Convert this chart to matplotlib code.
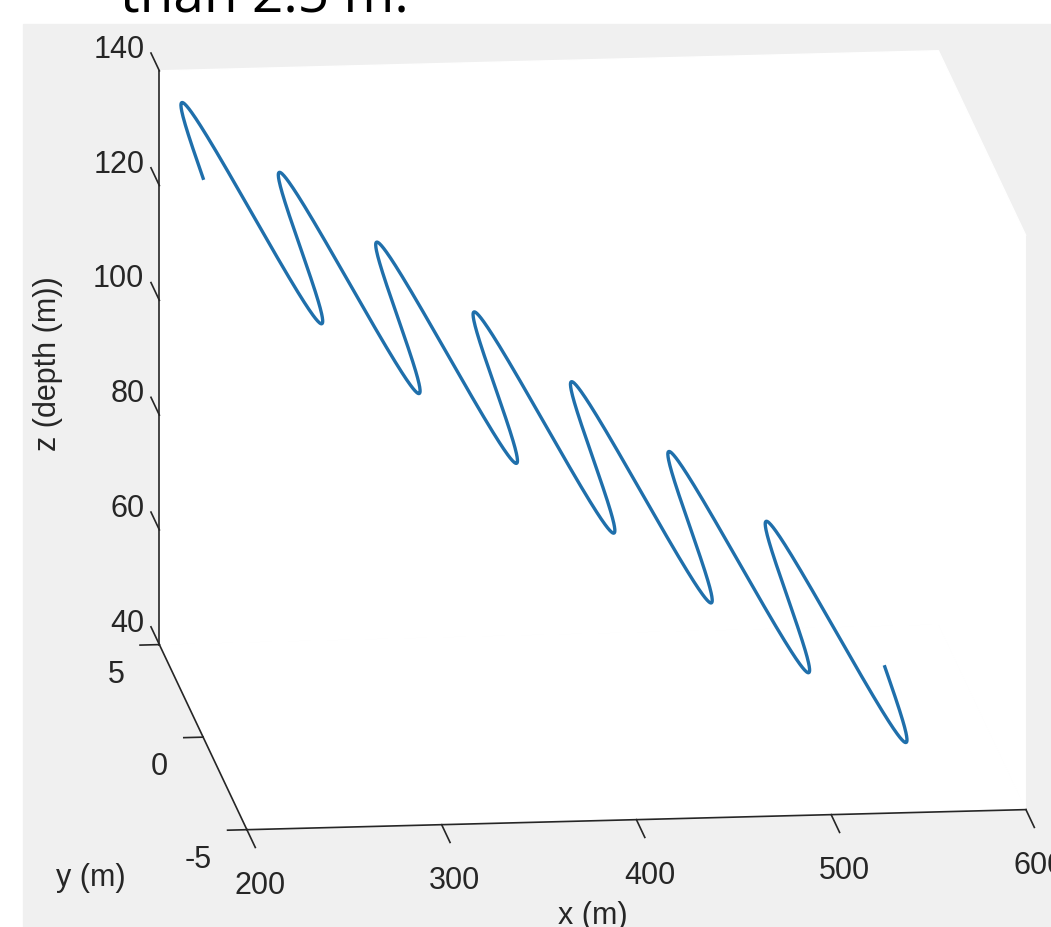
import numpy as np
import matplotlib.pyplot as plt
from matplotlib.patches import Rectangle
from matplotlib.transforms import offset_copy

# trajectory: sinusoid in y, straight descent in z
x_start, x_end = 200, 550
wavelength = 50
amplitude = 5
z_start, z_end = 137.4, 49.2

x = np.linspace(x_start, x_end, 1401)
y = amplitude * np.sin(2 * np.pi * (x - x_start) / wavelength)
z = z_start + (z_end - z_start) * (x - x_start) / (x_end - x_start)

xticks = [200, 300, 400, 500, 600]
yticks = [-5, 0, 5]
zticks = [40, 60, 80, 100, 120, 140]

plt.rcParams['font.family'] = ['Liberation Sans', 'DejaVu Sans']
dark = '#262626'

fig = plt.figure(figsize=(10.51, 9.28), dpi=100)
fig.patch.set_facecolor('white')
fig.patches.append(Rectangle((23 / 1051, 0), 1, (928 - 25) / 928,
                             transform=fig.transFigure, color='#f0f0f0',
                             zorder=-10))
fig.text(120 / 1051, 1 - 12 / 928, 'than 2.5 m.', fontsize=39.6,
         family='Open Sans', va='baseline', ha='left')

ax = fig.add_axes([0.0753, -0.0288, 1000 / 1051, 1000 / 928],
                  projection='3d')
ax.patch.set_alpha(0)
ax.set_proj_type('ortho')
ax.set_box_aspect((782.7, 796.6, 589.3), zoom=1.2275)
ax.view_init(elev=13.5, azim=-96.3)

ax.plot(x, y, z, color='#1f6fab', lw=2.4)

ax.set_xlim(200, 600)
ax.set_ylim(-5, 5)
ax.set_zlim(40, 140)
ax.set_xticks(xticks)
ax.set_yticks(yticks)
ax.set_zticks(zticks)
ax.grid(False)
ax.zaxis.set_ticks_position('upper')
ax.zaxis._get_tickdir = lambda position: 1

tick_len = {'x': (1.2, 0), 'y': (0.31, 0), 'z': (0, 1.2)}
for name, a in zip('xyz', (ax.xaxis, ax.yaxis, ax.zaxis)):
    a.set_pane_color((1, 1, 1, 1))
    a.pane.set_edgecolor('white')
    a.line.set_color(dark)
    a.line.set_linewidth(1.2)
    a._axinfo['tick']['inward_factor'] = tick_len[name][0]
    a._axinfo['tick']['outward_factor'] = tick_len[name][1]
    a._axinfo['tick']['linewidth'] = {True: 1.2, False: 0.8}
    a.set_tick_params(colors=dark, label1On=False, label2On=False)
    a.label.set_visible(False)
    a.offsetText.set_visible(False)

# tick labels placed like MATLAB's, offset in pixels from the tick base
def label_offset(dx, dy):
    return offset_copy(ax.transData, fig=fig, x=dx, y=dy, units='dots')

for v in xticks:
    ax.text(v, -5, 40, str(v), fontsize=22, color=dark, ha='center',
            va='baseline', transform=label_offset(13, -63))
for v in yticks:
    ax.text(200, v, 40, str(v), fontsize=22, color=dark, ha='right',
            va='baseline', transform=label_offset(-35, -37))
for v in zticks:
    ax.text(200, 5, v, str(v), fontsize=22, color=dark, ha='right',
            va='baseline', transform=label_offset(-15, 14))

fig.text(592.5 / 1051, 1 - 916 / 928, 'x (m)', fontsize=22, color=dark,
         ha='center', va='center')
fig.text(91 / 1051, 1 - 878 / 928, 'y (m)', fontsize=22, color=dark,
         ha='center', va='center')
fig.text(48.5 / 1051, 1 - 363.5 / 928, 'z (depth (m))', fontsize=22,
         color=dark, ha='center', va='center', rotation=90)

fig.savefig('out.png', dpi=100)
